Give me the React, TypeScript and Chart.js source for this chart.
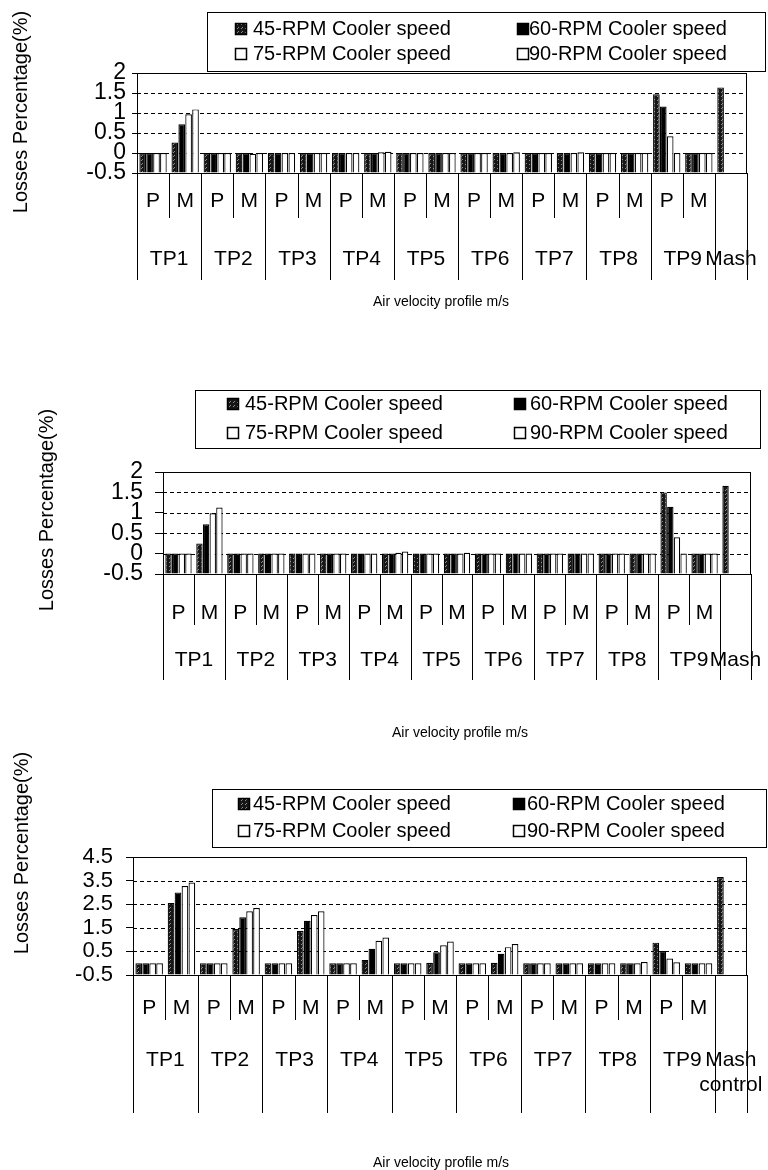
import React, { useEffect, useRef } from "react";
import { Chart, registerables } from "chart.js";

Chart.register(...registerables);

const FONT = '"Liberation Sans", Arial, Helvetica, sans-serif';

// ---------- data ----------
const SUB_LABELS = ["P", "M", "P", "M", "P", "M", "P", "M", "P", "M", "P", "M", "P", "M", "P", "M", "P", "M", ""];
const GROUP_OF = [0, 0, 1, 1, 2, 2, 3, 3, 4, 4, 5, 5, 6, 6, 7, 7, 8, 8, 9];
const GROUPS_AB = ["TP1", "TP2", "TP3", "TP4", "TP5", "TP6", "TP7", "TP8", "TP9", "Mash"];
const GROUPS_C = ["TP1", "TP2", "TP3", "TP4", "TP5", "TP6", "TP7", "TP8", "TP9", "Mash\ncontrol"];
const CATEGORIES = SUB_LABELS.map((s, i) => GROUPS_AB[GROUP_OF[i]] + (s ? " " + s : ""));

const SERIES = ["45-RPM Cooler speed", "60-RPM Cooler speed", "75-RPM Cooler speed", "90-RPM Cooler speed"];

const Y_TITLE = "Losses Percentage(%)";
const X_TITLE = "Air velocity profile m/s";

const Y_TICKS_AB = [-0.5, 0, 0.5, 1, 1.5, 2];
const Y_TICKS_C = [-0.5, 0.5, 1.5, 2.5, 3.5, 4.5];

// chart 1 (top)
const A_45 = [0, 0.26, 0, 0, 0, 0, 0, 0, 0, 0, 0, 0, 0, 0, 0, 0, 1.47, 0, 1.64];
const A_60 = [0, 0.72, 0, 0, 0, 0, 0, 0, 0, 0, 0, 0, 0, 0, 0, 0, 1.16, 0, null];
const A_75 = [0, 0.97, 0, -0.02, 0, 0, 0, 0.02, 0, 0, 0, 0, 0, 0, 0, 0, 0.42, 0, null];
const A_90 = [0, 1.09, 0, 0, 0, 0, 0, 0.03, 0, 0, 0, 0.02, 0, 0.02, 0, 0, 0, 0, null];

// chart 2 (middle)
const B_45 = [0, 0.25, 0, 0, 0, 0, 0, 0, 0, 0, 0, 0, 0, 0, 0, 0, 1.5, 0, 1.66];
const B_60 = [0, 0.72, 0, 0, 0, 0, 0, 0, 0, 0, 0, 0, 0, 0, 0, 0, 1.15, 0, null];
const B_75 = [0, 0.99, 0, 0, 0, 0, 0, 0.02, 0, 0, 0, 0, 0, 0, 0, 0, 0.4, 0, null];
const B_90 = [0, 1.13, 0, 0, 0, 0, 0, 0.05, 0, 0.02, 0, 0, 0, 0, 0, 0, 0, 0, null];

// chart 3 (bottom)
const C_45 = [0, 2.55, 0, 1.45, 0, 1.37, 0, 0.14, 0, 0.02, 0, 0.02, 0, 0, 0, 0, 0.87, 0, 3.65];
const C_60 = [0, 3.0, 0, 1.95, 0, 1.8, 0, 0.61, 0, 0.46, 0, 0.4, 0, 0, 0, 0, 0.52, 0, null];
const C_75 = [0, 3.27, 0, 2.2, 0, 2.04, 0, 0.95, 0, 0.76, 0, 0.68, 0, 0, 0, 0, 0.2, 0, null];
const C_90 = [0, 3.42, 0, 2.34, 0, 2.2, 0, 1.09, 0, 0.92, 0, 0.81, 0, 0, 0, 0.05, 0.04, 0, null];

// ---------- layout ----------
type Panel = {
  top: number;
  height: number;
  area: { l: number; r: number; t: number; b: number };
  series: (number | null)[][];
  yTicks: number[];
  groups: string[];
  tickFont: number;
  tickLen: number;
  tickPad: number;
  subLineEnd: number;
  groupLineEnd: number;
  subLabelY: number;
  groupLabelY: number;
  lineGap: number;
  xTitle: { x: number; y: number };
  yTitle: { x: number; y: number };
  legend: { x: number; y: number; w: number; h: number; sq: number[]; rows: number[]; tx: number[] };
};

const PANELS: Panel[] = [
  {
    top: 0,
    height: 320,
    area: { l: 137, r: 747, t: 73, b: 173 },
    series: [A_45, A_60, A_75, A_90],
    yTicks: Y_TICKS_AB,
    groups: GROUPS_AB,
    tickFont: 23,
    tickLen: 5,
    tickPad: 6,
    subLineEnd: 218,
    groupLineEnd: 280,
    subLabelY: 201,
    groupLabelY: 259,
    lineGap: 25,
    xTitle: { x: 441, y: 302 },
    yTitle: { x: 21, y: 112 },
    legend: { x: 207, y: 12, w: 558, h: 59, sq: [235, 517], rows: [28, 53], tx: [253, 529] },
  },
  {
    top: 370,
    height: 380,
    area: { l: 163, r: 751, t: 102, b: 204 },
    series: [B_45, B_60, B_75, B_90],
    yTicks: Y_TICKS_AB,
    groups: GROUPS_AB,
    tickFont: 23,
    tickLen: 8,
    tickPad: 12,
    subLineEnd: 255,
    groupLineEnd: 310,
    subLabelY: 243,
    groupLabelY: 290,
    lineGap: 25,
    xTitle: { x: 460, y: 363 },
    yTitle: { x: 47, y: 140 },
    legend: { x: 195, y: 20, w: 565, h: 58, sq: [227, 514], rows: [33, 62], tx: [245, 530] },
  },
  {
    top: 740,
    height: 430,
    area: { l: 133, r: 747, t: 117, b: 235 },
    series: [C_45, C_60, C_75, C_90],
    yTicks: Y_TICKS_C,
    groups: GROUPS_C,
    tickFont: 22,
    tickLen: 7,
    tickPad: 13,
    subLineEnd: 280,
    groupLineEnd: 373,
    subLabelY: 268,
    groupLabelY: 320,
    lineGap: 25,
    xTitle: { x: 441, y: 423 },
    yTitle: { x: 22, y: 113 },
    legend: { x: 212, y: 49, w: 554, h: 58, sq: [238, 513], rows: [63, 90], tx: [253, 527] },
  },
];

function makePattern(): CanvasPattern | string {
  const c = document.createElement("canvas");
  c.width = 4;
  c.height = 4;
  const g = c.getContext("2d");
  if (!g) return "#222";
  g.fillStyle = "#161616";
  g.fillRect(0, 0, 4, 4);
  g.fillStyle = "#8a8a8a";
  g.fillRect(1, 0, 1, 1);
  g.fillRect(2, 3, 1, 1);
  return g.createPattern(c, "repeat") || "#222";
}

function makeDecor(p: Panel) {
  return {
    id: "decor",
    beforeDatasetsDraw(chart: any) {
      const { ctx, chartArea: a } = chart;
      const y = chart.scales.y;
      ctx.save();
      ctx.strokeStyle = "#000";
      ctx.lineWidth = 1;
      ctx.setLineDash([4, 3]);
      y.ticks.forEach((t: any) => {
        if (t.value <= y.min || t.value >= y.max) return;
        const py = Math.round(y.getPixelForValue(t.value)) + 0.5;
        ctx.beginPath();
        ctx.moveTo(a.left, py);
        ctx.lineTo(a.right, py);
        ctx.stroke();
      });
      ctx.restore();
    },
    afterDatasetsDraw(chart: any) {
      const { ctx, chartArea: a } = chart;
      const x = chart.scales.x;
      const n = CATEGORIES.length;
      const step = x.getPixelForValue(1) - x.getPixelForValue(0);
      const edge = (i: number) => x.getPixelForValue(0) - step / 2 + i * step;
      ctx.save();
      ctx.strokeStyle = "#000";
      ctx.fillStyle = "#000";
      ctx.lineWidth = 1;
      ctx.setLineDash([]);
      // plot frame
      ctx.strokeRect(Math.round(a.left) + 0.5, Math.round(a.top) + 0.5, Math.round(a.right - a.left) - 1, Math.round(a.bottom - a.top));
      // category separators
      for (let i = 0; i <= n; i++) {
        const isGroup = i === 0 || i === n || GROUP_OF[i] !== GROUP_OF[i - 1];
        const end = isGroup ? p.groupLineEnd : p.subLineEnd;
        const px = Math.round(edge(i)) + 0.5;
        ctx.beginPath();
        ctx.moveTo(px, a.bottom);
        ctx.lineTo(px, end);
        ctx.stroke();
      }
      // sub labels
      ctx.textAlign = "center";
      ctx.textBaseline = "middle";
      ctx.font = `21px ${FONT}`;
      SUB_LABELS.forEach((s, i) => {
        if (s) ctx.fillText(s, x.getPixelForValue(i), p.subLabelY);
      });
      // group labels
      p.groups.forEach((g, gi) => {
        const idx = GROUP_OF.map((v, i) => (v === gi ? i : -1)).filter((i) => i >= 0);
        const cx = (edge(idx[0]) + edge(idx[idx.length - 1] + 1)) / 2;
        g.split("\n").forEach((line, k) => ctx.fillText(line, cx, p.groupLabelY + k * p.lineGap));
      });
      // x title
      ctx.font = `14px ${FONT}`;
      ctx.fillText(X_TITLE, p.xTitle.x, p.xTitle.y);
      // y title
      ctx.save();
      ctx.translate(p.yTitle.x, p.yTitle.y);
      ctx.rotate(-Math.PI / 2);
      ctx.font = `20px ${FONT}`;
      ctx.fillText(Y_TITLE, 0, 0);
      ctx.restore();
      // legend
      const L = p.legend;
      ctx.strokeRect(L.x + 0.5, L.y + 0.5, L.w, L.h);
      ctx.font = `20px ${FONT}`;
      ctx.textAlign = "left";
      chart.data.datasets.forEach((ds: any, k: number) => {
        const col = k % 2;
        const row = Math.floor(k / 2);
        const sx = L.sq[col];
        const sy = Math.round(L.rows[row] - 5) + 0.5;
        ctx.fillStyle = ds.backgroundColor;
        ctx.fillRect(sx + 0.5, sy, 11, 11);
        ctx.strokeStyle = "#000";
        ctx.lineWidth = 1.5;
        ctx.strokeRect(sx + 0.5, sy, 11, 11);
        ctx.lineWidth = 1;
        ctx.fillStyle = "#000";
        ctx.fillText(ds.label, L.tx[col], L.rows[row] + 1);
      });
      ctx.restore();
    },
  };
}

function Panel({ p }: { p: Panel }) {
  const ref = useRef<HTMLCanvasElement | null>(null);
  useEffect(() => {
    if (!ref.current) return;
    const pattern = makePattern();
    const fills = [pattern, "#000000", "#ffffff", "#ffffff"];
    const yMin = p.yTicks[0];
    const yMax = p.yTicks[p.yTicks.length - 1];
    const chart = new Chart(ref.current, {
      type: "bar",
      data: {
        labels: CATEGORIES,
        datasets: SERIES.map((label, k) => ({
          label,
          data: p.series[k] as any,
          base: yMin,
          backgroundColor: fills[k] as any,
          borderColor: "#000",
          borderWidth: 1.2,
          categoryPercentage: 0.86,
          barPercentage: 0.96,
        })),
      },
      options: {
        animation: false,
        responsive: false,
        maintainAspectRatio: false,
        events: [],
        layout: {
          padding: { left: 0, top: p.area.t, right: 768 - p.area.r, bottom: p.height - p.area.b },
        },
        plugins: { legend: { display: false }, tooltip: { enabled: false }, title: { display: false } },
        scales: {
          x: {
            display: false,
            ticks: { display: false },
            grid: { display: false },
            afterFit: (s: any) => {
              s.height = 0;
            },
          },
          y: {
            type: "linear",
            min: yMin,
            max: yMax,
            afterBuildTicks: (s: any) => {
              s.ticks = p.yTicks.map((v) => ({ value: v }));
            },
            afterFit: (s: any) => {
              s.width = p.area.l;
            },
            ticks: {
              autoSkip: false,
              color: "#000",
              padding: p.tickPad,
              font: { family: FONT, size: p.tickFont },
              callback: (v: any) => String(v),
            },
            grid: {
              display: true,
              drawOnChartArea: false,
              drawTicks: true,
              tickLength: p.tickLen,
              tickColor: "#000",
              color: "#000",
            },
            border: { display: true, color: "#000", width: 1 },
          },
        },
      },
      plugins: [makeDecor(p)],
    } as any);
    return () => chart.destroy();
  }, [p]);
  return (
    <canvas
      ref={ref}
      width={768}
      height={p.height}
      style={{ position: "absolute", left: 0, top: p.top, width: 768, height: p.height, display: "block" }}
    />
  );
}

export default function App() {
  return (
    <div style={{ position: "absolute", left: 0, top: 0, width: 768, height: 1170, background: "#fff" }}>
      {PANELS.map((p, i) => (
        <Panel key={i} p={p} />
      ))}
    </div>
  );
}
